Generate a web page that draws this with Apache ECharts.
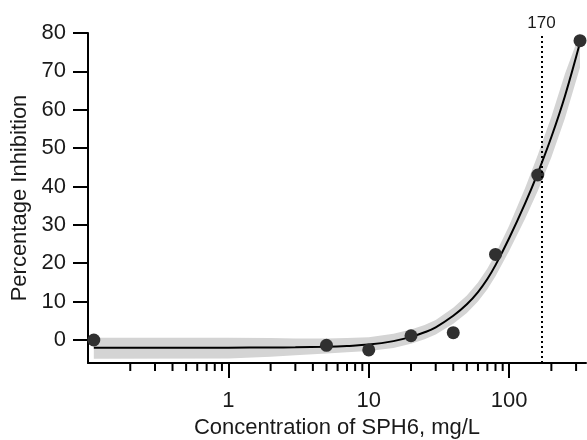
<!DOCTYPE html>
<html>
<head>
<meta charset="utf-8">
<script src="https://cdn.jsdelivr.net/npm/echarts@6/dist/echarts.min.js"></script>
<style>
  html, body { margin: 0; padding: 0; background: #fff; }
  #chart { width: 587px; height: 440px; }
</style>
</head>
<body>
<div id="chart"></div>
<script>
// measured points
const doseX = [0.11, 5, 10, 20, 40, 80, 160, 320]
const inhibition = [0, -1.4, -2.6, 1.1, 1.9, 22.3, 43, 78]

// fitted curve + band
const fitX = [0.11, 1, 2, 3, 5, 7, 10, 15, 20, 25, 30, 40, 50, 60, 70, 80, 100, 130, 160, 200, 250, 320]
const fitY = [-2.0, -2.0, -1.95, -1.9, -1.75, -1.55, -1.2, -0.3, 0.8, 2.0, 3.3, 6.3, 9.3, 12.5, 15.9, 19.5, 26.5, 35.6, 43.5, 52.9, 63.6, 77.5]
const bandLo = [-4.9, -4.8, -4.4, -4.0, -3.5, -3.2, -2.9, -2.1, -1.0, 0.2, 1.4, 4.2, 7.0, 10.0, 13.2, 16.6, 23.2, 31.6, 38.8, 47.6, 57.8, 71]
const bandHi = [0.6, 0.6, 0.5, 0.4, 0.4, 0.5, 0.7, 1.6, 2.7, 3.9, 5.2, 8.4, 11.6, 15.0, 18.6, 22.4, 29.8, 39.6, 48.2, 58.2, 69.4, 80]

// axis ticks
const xMajor = [1, 10, 100]
const xMinor = [0.2, 0.3, 0.4, 0.5, 0.6, 0.7, 0.8, 0.9, 2, 3, 4, 5, 6, 7, 8, 9, 20, 30, 40, 50, 60, 70, 80, 90, 200, 300]
const yTicks = [0, 10, 20, 30, 40, 50, 60, 70, 80]
const ec50 = 170

const Y_MIN = -6
const FONT = 'Liberation Sans, Arial, sans-serif'

const chart = echarts.init(document.getElementById('chart'))

const option = {
  animation: false,
  grid: { left: 88, right: 1, top: 33, bottom: 77, outerBoundsMode: 'none', containLabel: false },
  xAxis: {
    type: 'log',
    min: 0.1,
    max: 353,
    name: 'Concentration of SPH6, mg/L',
    nameLocation: 'middle',
    nameGap: 52,
    nameTextStyle: { fontFamily: FONT, fontSize: 22, color: '#1a1a1a' },
    axisLine: { show: true, onZero: false, lineStyle: { color: '#000', width: 2 } },
    axisTick: { show: true, length: 15, customValues: xMajor, lineStyle: { color: '#000', width: 2 } },
    axisLabel: { customValues: xMajor, margin: 27, fontFamily: FONT, fontSize: 22, color: '#1a1a1a' },
    splitLine: { show: false },
    minorTick: { show: false }
  },
  yAxis: {
    type: 'value',
    min: Y_MIN,
    max: 80,
    name: 'Percentage Inhibition',
    nameLocation: 'middle',
    nameGap: 50,
    nameTextStyle: { fontFamily: FONT, fontSize: 22, color: '#1a1a1a' },
    axisLine: { show: true, lineStyle: { color: '#000', width: 2 } },
    axisTick: { show: true, length: 15, customValues: yTicks, lineStyle: { color: '#000', width: 2 } },
    axisLabel: { customValues: yTicks, margin: 22, fontFamily: FONT, fontSize: 22, color: '#1a1a1a' },
    splitLine: { show: false }
  },
  series: [
    {
      // confidence band
      type: 'custom',
      silent: true,
      z: 1,
      data: fitX.map((x, i) => [x, fitY[i]]),
      renderItem: function (params, api) {
        if (params.dataIndex !== 0) return null
        const pts = []
        for (let i = 0; i < fitX.length; i++) pts.push(api.coord([fitX[i], bandHi[i]]))
        for (let i = fitX.length - 1; i >= 0; i--) pts.push(api.coord([fitX[i], bandLo[i]]))
        return { type: 'polygon', shape: { points: pts }, style: { fill: '#d4d4d4' } }
      }
    },
    {
      // minor ticks of the log axis
      type: 'custom',
      silent: true,
      z: 5,
      data: xMinor.map(v => [v, Y_MIN]),
      renderItem: function (params, api) {
        const p = api.coord([api.value(0), Y_MIN])
        return {
          type: 'line',
          shape: { x1: p[0], y1: p[1], x2: p[0], y2: p[1] + 8 },
          style: { stroke: '#000', lineWidth: 2 }
        }
      }
    },
    {
      type: 'line',
      z: 3,
      smooth: 0.4,
      showSymbol: false,
      data: fitX.map((x, i) => [x, fitY[i]]),
      lineStyle: { color: '#000', width: 2 },
      markLine: {
        silent: true,
        symbol: ['none', 'none'],
        lineStyle: { color: '#000', width: 2, type: [2, 3] },
        label: { show: true, position: 'end', formatter: String(ec50), fontFamily: FONT, fontSize: 17, color: '#1a1a1a', distance: 1 },
        data: [{ xAxis: ec50 }]
      }
    },
    {
      type: 'scatter',
      z: 4,
      clip: false,
      symbolSize: 13,
      itemStyle: { color: '#303030', opacity: 1 },
      data: doseX.map((x, i) => [x, inhibition[i]])
    }
  ]
}

chart.setOption(option)
</script>
</body>
</html>
